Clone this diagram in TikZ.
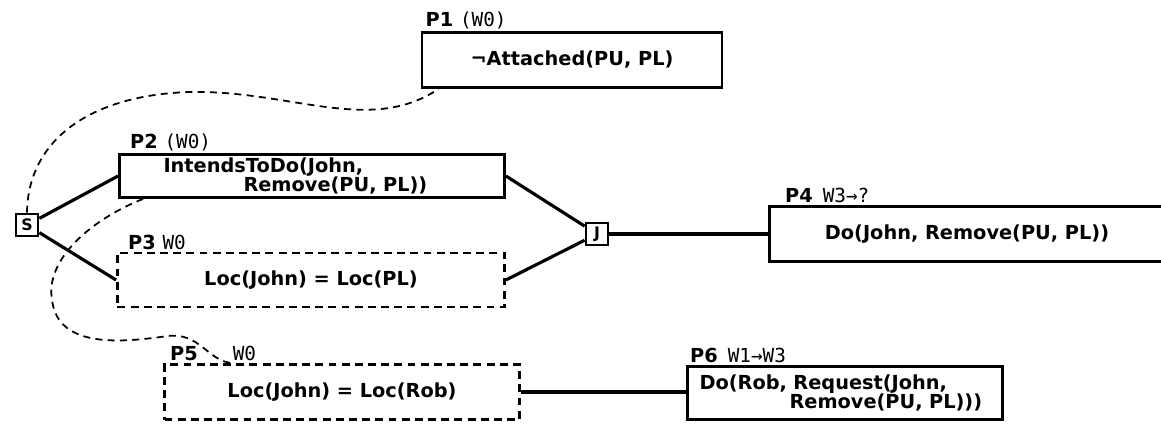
\documentclass[tikz,border=0pt]{standalone}
\usepackage{fontspec}
\usepackage{tikz}
\usetikzlibrary{positioning}
\newfontfamily\boxfont{DejaVu Sans}
\newfontfamily\worldfont{DejaVu Sans Mono}

\begin{document}
\begin{tikzpicture} [x=0.2mm, y=-0.2mm,
                pbox/.style={draw, rectangle, line width=1.6pt, inner sep=0pt, font=\boxfont\bfseries\fontsize{11}{11}\selectfont},
                dbox/.style={pbox, dash pattern=on 4.5pt off 3pt},
                knot/.style={draw, rectangle, line width=1.6pt, minimum size=4.4mm, inner sep=0pt, font=\boxfont\bfseries\fontsize{9}{11}\selectfont},
                tag/.style={anchor=south west, inner sep=1pt, font=\boxfont\bfseries\fontsize{11}{13}\selectfont},
                link/.style={line width=1.8pt},
                maybe/.style={line width=1pt, dash pattern=on 4pt off 3pt}
            ]
            \useasboundingbox (0,0) rectangle (1161,425);

            % Start and join
            \node[knot] (s) at (27,225) {S};
            \node[knot] (j) at (597,234) {J};

            % Preconditions
            \node[pbox, minimum width=60mm, minimum height=11mm] (p1) at (572,60) {¬Attached(PU, PL)};
            \node[tag] (p1tag) at ([xshift=0.6mm]p1.north west) {P1 {\worldfont\mdseries(W0)}};

            \node[pbox, text width=59.4mm, inner xsep=8.8mm, align=left, minimum height=8.6mm] (p2) at (312,176) {IntendsToDo(John,\\\hspace*{16mm}Remove(PU, PL))};
            \node[tag] (p2tag) at ([xshift=2mm]p2.north west) {P2 {\worldfont\mdseries(W0)}};

            \node[dbox, minimum width=77.4mm, minimum height=10.8mm] (p3) at (311,280) {Loc(John) = Loc(PL)};
            \node[tag] (p3tag) at ([xshift=2mm]p3.north west) {P3 {\worldfont\mdseries W0}};

            % Action
            \node[pbox, minimum width=79mm, minimum height=11mm] (p4) at (967,234) {Do(John, Remove(PU, PL))};
            \node[tag] (p4tag) at ([xshift=3mm]p4.north west) {P4\hspace{2mm}{\worldfont\mdseries W3→?}};

            % Request
            \node[dbox, minimum width=71mm, minimum height=11mm] (p5) at (342,392) {Loc(John) = Loc(Rob)};
            \node[tag] (p5tag) at ([xshift=1mm]p5.north west) {P5\hspace{7mm}{\worldfont\mdseries W0}};

            \node[pbox, text width=58.2mm, inner xsep=2.4mm, align=left, minimum height=10.6mm] (p6) at (845,393) {Do(Rob, Request(John,\\\hspace*{18mm}Remove(PU, PL)))};
            \node[tag] (p6tag) at ([xshift=0.4mm]p6.north west) {P6\hspace{2mm}{\worldfont\mdseries W1→W3}};

            % Connections
            \draw[link] (s) -- (p2.west);
            \draw[link] (s) -- (p3.west);
            \draw[link] (p2.east) -- (j);
            \draw[link] (p3.east) -- (j);
            \draw[link] (j) -- (j -| p4.west);
            \draw[link] (p5.east) -- (p5.east -| p6.west);

            % Dashed links
            \draw[maybe] (s.north) .. controls (28,140) and (90,95) .. (190,92) .. controls (290,90) and (370,135) .. ([xshift=3.6mm]p1.south west);
            \draw[maybe] ([xshift=5mm]p2.south west) .. controls (90,220) and (45,260) .. (52,300) .. controls (58,350) and (125,342) .. (168,336) .. controls (200,332) and (208,362) .. ([xshift=14mm]p5.north west);
        \end{tikzpicture}
\end{document}
